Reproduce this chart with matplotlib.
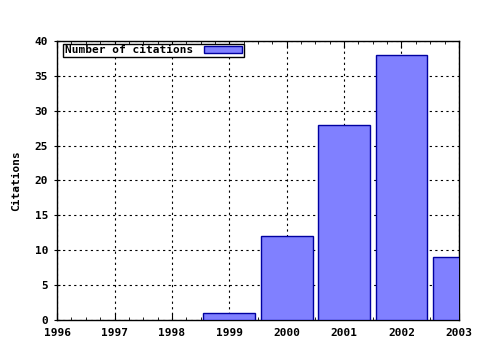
import matplotlib.pyplot as plt
from matplotlib.ticker import MultipleLocator

years = [1999, 2000, 2001, 2002, 2003]
citations = [1, 12, 28, 38, 9]
year_ticks = [1996, 1997, 1998, 1999, 2000, 2001, 2002, 2003]
cite_ticks = [0, 5, 10, 15, 20, 25, 30, 35, 40]

font = {"family": "DejaVu Sans Mono", "weight": "bold", "size": 8}

fig = plt.figure(figsize=(4.8, 3.5), dpi=100)
ax = fig.add_axes([0.119, 0.086, 0.837, 0.797])

ax.bar(years, citations, width=0.9, color="#8080ff", edgecolor="#0000a0",
       linewidth=1.0, label="Number of citations", zorder=3)

ax.set_xlim(1996, 2003)
ax.set_ylim(0, 40)
ax.set_xticks(year_ticks)
ax.set_yticks(cite_ticks)
ax.xaxis.set_minor_locator(MultipleLocator(0.25))
ax.tick_params(axis="x", which="both", direction="in", top=True, bottom=True, pad=6)
ax.tick_params(axis="x", which="major", length=5)
ax.tick_params(axis="x", which="minor", length=2.5)
ax.tick_params(axis="y", which="major", direction="inout", length=5, pad=4)
for lbl in ax.get_xticklabels() + ax.get_yticklabels():
    lbl.set_fontproperties(font)

ax.grid(True, which="major", linestyle=(0, (2, 3)), color="black", linewidth=0.8, zorder=0)
ax.set_axisbelow(True)
for s in ax.spines.values():
    s.set_linewidth(1.0)
    s.set_color("black")

ax.set_ylabel("Citations", fontdict=font, labelpad=10)

leg = ax.legend(loc="upper left", bbox_to_anchor=(0.015, 0.99), borderaxespad=0,
                prop=font, markerfirst=False, fancybox=False,
                framealpha=1, edgecolor="black", borderpad=0.15, handlelength=3.4,
                handleheight=0.5, handletextpad=1.0)
leg.get_frame().set_linewidth(1.0)

fig.savefig("out.png", dpi=100)
